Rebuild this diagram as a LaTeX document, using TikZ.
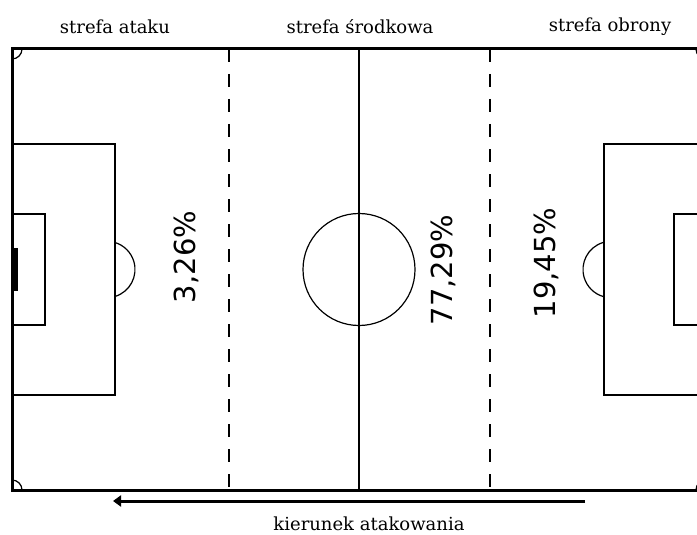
\documentclass[tikz,border=0pt]{standalone}
\usepackage{fontspec}
\newfontfamily\zonefont{DejaVu Serif}
\newfontfamily\pctfont{DejaVu Sans}
\usetikzlibrary{arrows.meta}
\begin{document}
\begin{tikzpicture}[x=1pt,y=-1pt,
  thinline/.style={line width=1.2pt},
  outline/.style={line width=3pt},
  halfway/.style={line width=2.5pt},
  zoneline/.style={line width=1.2pt,dash pattern=on 13pt off 12pt},
  zonelabel/.style={font=\zonefont\fontsize{18}{21}\selectfont},
  pct/.style={rotate=90,font=\pctfont\fontsize{29}{34}\selectfont}]
\useasboundingbox (0,0) rectangle (697,535);
\clip (0,0) rectangle (697,535);

% pitch
\draw[outline] (12,49) rectangle (706,490);
\draw[halfway] (359,49) -- (359,490);
\draw[zoneline] (229,49) -- (229,490);
\draw[zoneline] (490,49) -- (490,490);
\draw[thinline] (359,269.5) circle[radius=56pt];

% left half
\draw[thinline] (12,144) rectangle (115,395);
\draw[thinline] (12,214) rectangle (45,325);
\fill (12,248) rectangle (17.5,291);
\draw[thinline] ([shift={(106.8,269.5)}]-73:28.2pt) arc[start angle=-73,end angle=73,radius=28.2pt];
\draw[thinline] (22,49) arc[start angle=0,end angle=-90,radius=10pt];
\draw[thinline] (22,490) arc[start angle=0,end angle=90,radius=10pt];

% right half
\draw[thinline] (604,144) rectangle (706,395);
\draw[thinline] (674,214) rectangle (706,325);
\fill (700.5,248) rectangle (706,291);
\draw[thinline] ([shift={(611.2,269.5)}]107:28.2pt) arc[start angle=107,end angle=253,radius=28.2pt];
\draw[thinline] (696,49) arc[start angle=180,end angle=270,radius=10pt];
\draw[thinline] (696,490) arc[start angle=180,end angle=90,radius=10pt];

% zones
\node[zonelabel] (attack) at (115,27) {strefa ataku};
\node[zonelabel] (middle) at (360,27) {strefa środkowa};
\node[zonelabel] (defence) at (610,27) {strefa obrony};

\node[pct] (pctattack) at (186,257) {3,26\%};
\node[pct] (pctmiddle) at (443,270) {77,29\%};
\node[pct] (pctdefence) at (546,263) {19,45\%};

% direction
\coordinate (dirstart) at (585,501);
\coordinate (dirend) at (113,501);
\draw[line width=3pt,-{Triangle[length=8pt,width=11pt]}] (dirstart) -- (dirend);
\node[zonelabel] (direction) at (369,524) {kierunek atakowania};
\end{tikzpicture}
\end{document}
